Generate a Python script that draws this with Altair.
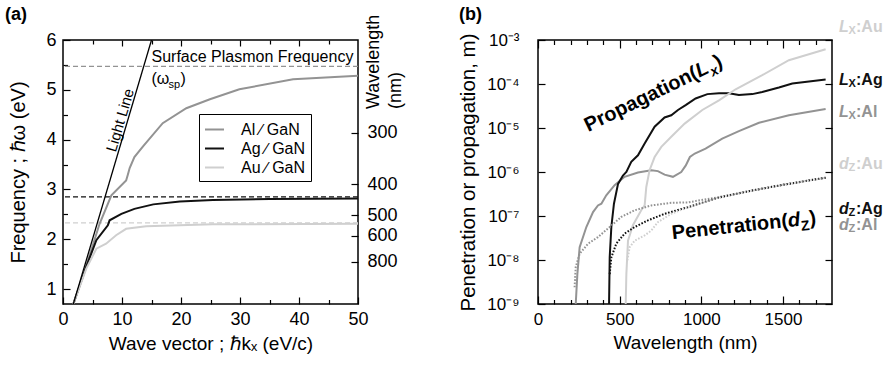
import altair as alt
import pandas as pd

FONT = "Liberation Sans"

# ----------------------------------------------------------------------
# (a) surface-plasmon dispersion at metal / GaN interfaces
# ----------------------------------------------------------------------
PAIRS = ["Al ∕ GaN", "Ag ∕ GaN", "Au ∕ GaN"]
PAIR_COLORS = ["#939393", "#111111", "#cfcfcf"]

al_k = [1.75, 3.9, 6.2, 8.2, 10.7, 11.0, 11.3, 12.1, 13.6, 16.9, 20.9, 24.9, 29.9, 39.0, 50.0]
al_E = [0.70, 1.45, 2.31, 2.88, 3.18, 3.30, 3.43, 3.65, 3.87, 4.33, 4.63, 4.81, 5.01, 5.21, 5.28]
ag_k = [1.75, 3.95, 5.65, 7.6, 7.9, 9.9, 12.1, 15.3, 19.8, 25.4, 35.0, 50.0]
ag_E = [0.70, 1.45, 1.98, 2.28, 2.38, 2.51, 2.61, 2.70, 2.76, 2.79, 2.81, 2.82]
au_k = [1.75, 3.95, 5.65, 7.3, 9.0, 10.7, 14.1, 25.4, 50.0]
au_E = [0.70, 1.41, 1.81, 1.91, 2.08, 2.21, 2.26, 2.30, 2.31]

sp_E = [5.47, 2.85, 2.33]          # surface plasmon energies (dashed)
light_k = [1.75, 15.0]             # light line in GaN
light_E = [0.70, 6.0]

wl_ticks = [300, 400, 500, 600, 800]   # nm, right-hand axis
HC_EV_NM = 1240.0

# ----------------------------------------------------------------------
# (b) propagation length L_x and penetration depth d_z (log10 of metres)
# ----------------------------------------------------------------------
METALS = ["Al", "Ag", "Au"]
METAL_COLORS = ["#939393", "#111111", "#cfcfcf"]

al_lx_wl = [231, 241, 255, 296, 337, 367, 388, 418, 469, 530, 612, 694, 734, 775, 826, 877,
            905, 930, 960, 1026, 1128, 1230, 1353, 1536, 1761]
al_lx_exp = [-9.0, -8.32, -7.71, -7.25, -6.91, -6.76, -6.72, -6.53, -6.30, -6.11, -6.01, -5.96,
             -5.98, -6.06, -6.11, -6.0, -5.85, -5.66, -5.58, -5.47, -5.24, -5.07, -4.88, -4.71, -4.57]
ag_lx_wl = [435, 439, 449, 465, 490, 520, 541, 571, 612, 653, 714, 775, 816, 857, 904, 965,
            1037, 1108, 1169, 1230, 1312, 1373, 1475, 1557, 1761]
ag_lx_exp = [-9.0, -7.94, -7.25, -6.72, -6.27, -6.08, -6.0, -5.77, -5.62, -5.35, -4.97, -4.76,
             -4.71, -4.59, -4.48, -4.33, -4.23, -4.21, -4.21, -4.25, -4.23, -4.18, -4.08, -3.99, -3.90]
au_lx_wl = [537, 541, 551, 581, 632, 653, 663, 683, 714, 755, 816, 898, 1006, 1108, 1210, 1373,
            1536, 1761]
au_lx_exp = [-9.0, -8.32, -7.56, -7.21, -6.87, -6.76, -6.34, -5.96, -5.66, -5.43, -5.20, -4.90,
             -4.59, -4.37, -4.12, -3.80, -3.46, -3.21]

al_dz_wl = [224, 231, 255, 306, 367, 439, 510, 592, 694, 816, 918, 1108, 1312, 1516, 1761]
al_dz_exp = [-8.62, -8.16, -7.86, -7.63, -7.48, -7.25, -7.02, -6.87, -6.76, -6.70, -6.69,
             -6.57, -6.42, -6.28, -6.13]
ag_dz_wl = [439, 449, 479, 530, 592, 673, 775, 918, 1108, 1312, 1516, 1761]
ag_dz_exp = [-8.32, -7.94, -7.63, -7.40, -7.25, -7.10, -6.95, -6.80, -6.58, -6.42, -6.28, -6.13]
au_dz_wl = [547, 561, 592, 653, 694, 734, 816, 918, 1108, 1312, 1516, 1761]
au_dz_exp = [-8.01, -7.71, -7.56, -7.44, -7.33, -7.14, -6.95, -6.80, -6.58, -6.42, -6.28, -6.13]

# end-of-curve labels on the right of panel (b)
end_labels = ["L", "L", "L", "d", "d", "d"]
end_subs = ["X", "X", "X", "Z", "Z", "Z"]
end_metals = ["Au", "Ag", "Al", "Au", "Ag", "Al"]
end_exp = [-2.70, -3.91, -4.63, -5.81, -6.84, -7.21]

W_A, H_A = 295, 264
W_B, H_B = 294, 264

# ----------------------------------------------------------------------
# helpers
# ----------------------------------------------------------------------
def axis(orient, values, size, **kw):
    """Axis whose ticks point into the plot (negative offset = tick length)."""
    spec = dict(orient=orient, values=values, tickSize=size, offset=-size,
                domain=False, grid=False, labels=False, ticks=True,
                tickColor="black", tickWidth=1.2, title=None)
    spec.update(kw)
    return alt.Axis(**spec)


LAB = dict(labels=True, labelFont=FONT, labelFontSize=18, labelColor="black",
           labelFlush=False, labelOverlap=False,
           titleFont=FONT, titleFontSize=19, titleFontWeight="normal", titleColor="black")

# ----------------------------------------------------------------------
# panel (a)
# ----------------------------------------------------------------------
rows = []
for pair, ks, es in zip(PAIRS, [al_k, ag_k, au_k], [al_E, ag_E, au_E]):
    rows += [{"pair": pair, "k": k, "E": e} for k, e in zip(ks, es)]
df_a = pd.DataFrame(rows)
df_light = pd.DataFrame({"k": light_k, "E": light_E})

XS_A = alt.Scale(domain=[0, 50], nice=False, zero=False)
YS_A = alt.Scale(domain=[0.7, 6], nice=False, zero=False)

curves_a = alt.Chart(df_a).mark_line(strokeWidth=2, clip=True).encode(
    x=alt.X("k:Q", scale=XS_A,
            axis=axis("bottom", [0, 10, 20, 30, 40, 50], 7, labelPadding=6,
                      title="Wave vector ; ℏkₓ (eV/c)", titlePadding=6, **LAB)),
    y=alt.Y("E:Q", scale=YS_A,
            axis=axis("left", [1, 2, 3, 4, 5, 6], 7, labelPadding=7,
                      title="Frequency ; ℏω (eV)", titlePadding=17,
                      **{**LAB, "titleFontSize": 20})),
    color=alt.Color("pair:N", scale=alt.Scale(domain=PAIRS, range=PAIR_COLORS),
                    legend=alt.Legend(title=None, orient="none", legendX=136, legendY=74,
                                      symbolType="stroke",
                                      symbolSize=361, symbolStrokeWidth=2,
                                      labelFont=FONT, labelFontSize=16, labelColor="black",
                                      labelOffset=16, rowPadding=0, padding=5,
                                      strokeColor="black", fillColor="white")),
)

# one dashed rule per interface at its surface-plasmon energy
sp_rules = [
    alt.Chart(pd.DataFrame({"E": [e]})).mark_rule(
        strokeDash=[5, 3], strokeWidth=1.3, color=c).encode(
        y=alt.Y("E:Q", scale=YS_A, axis=None))
    for e, c in zip(sp_E, PAIR_COLORS)
]

light = alt.Chart(df_light).mark_line(color="black", strokeWidth=1.3, clip=True).encode(
    x=alt.X("k:Q", scale=XS_A, axis=axis("bottom", [5, 15, 25, 35, 45], 4.5)),
    y=alt.Y("E:Q", scale=YS_A,
            axis=axis("left", [1.5, 2.5, 3.5, 4.5, 5.5], 4.5)),
)

ann_a = pd.DataFrame({"k": [15.0], "E1": [5.55], "E2": [5.11], "kl": [9.7], "El": [4.39]})

spf_text = alt.Chart(ann_a).mark_text(
    text="Surface Plasmon Frequency", font=FONT, fontSize=16, align="left",
    baseline="alphabetic", color="black").encode(
    x=alt.X("k:Q", scale=XS_A, axis=axis("top", [10, 20, 30, 40], 6)),
    y=alt.Y("E1:Q", scale=YS_A,
            axis=axis("right", [HC_EV_NM / w for w in wl_ticks], 7, labelPadding=9,
                      labelExpr="format(1240 / datum.value, '.0f')", **LAB)),
)

omega_open = alt.Chart(ann_a).mark_text(
    text="(ω", font=FONT, fontSize=16, align="left", baseline="alphabetic",
    color="black").encode(
    x=alt.X("k:Q", scale=XS_A, axis=axis("top", [5, 15, 25, 35, 45], 4)),
    y=alt.Y("E2:Q", scale=YS_A, axis=None),
)
omega_sub = alt.Chart(ann_a).mark_text(
    text="sp", font=FONT, fontSize=11, align="left", baseline="alphabetic",
    dx=17, dy=4, color="black").encode(
    x=alt.X("k:Q", scale=XS_A, axis=None), y=alt.Y("E2:Q", scale=YS_A, axis=None))
omega_close = alt.Chart(ann_a).mark_text(
    text=")", font=FONT, fontSize=16, align="left", baseline="alphabetic",
    dx=29, color="black").encode(
    x=alt.X("k:Q", scale=XS_A, axis=None), y=alt.Y("E2:Q", scale=YS_A, axis=None))

light_text = alt.Chart(ann_a).mark_text(
    text="Light Line", font=FONT, fontSize=15, align="center", baseline="middle",
    angle=286.4, color="black").encode(
    x=alt.X("kl:Q", scale=XS_A, axis=None), y=alt.Y("El:Q", scale=YS_A, axis=None))

# title of the wavelength axis, two rotated lines above the tick labels
wl_title = [
    alt.Chart(ann_a).mark_text(text=t, font=FONT, fontSize=18, align="left",
                               baseline="middle", angle=270, color="black").encode(
        x=alt.value(W_A + dx), y=alt.value(69))
    for t, dx in [("Wavelength", 16), ("(nm)", 38)]
]

tag_a = alt.Chart(ann_a).mark_text(
    text="(a)", font=FONT, fontSize=18, fontWeight="bold", align="left",
    baseline="alphabetic", color="black").encode(x=alt.value(-58), y=alt.value(-20))

panel_a = alt.layer(
    *sp_rules, curves_a, light, spf_text, omega_open, omega_sub, omega_close, light_text,
    *wl_title, tag_a
).resolve_axis(x="independent", y="independent").properties(width=W_A, height=H_A)

# ----------------------------------------------------------------------
# panel (b)
# ----------------------------------------------------------------------
rows = []
for metal, kind, wls, exps in [
    ("Al", "Lx", al_lx_wl, al_lx_exp), ("Ag", "Lx", ag_lx_wl, ag_lx_exp),
    ("Au", "Lx", au_lx_wl, au_lx_exp), ("Al", "dz", al_dz_wl, al_dz_exp),
    ("Ag", "dz", ag_dz_wl, ag_dz_exp), ("Au", "dz", au_dz_wl, au_dz_exp),
]:
    rows += [{"metal": metal, "kind": kind, "wl": w, "len": 10.0 ** e}
             for w, e in zip(wls, exps)]
df_b = pd.DataFrame(rows)
shade = dict(zip(METALS, METAL_COLORS))
df_b["shade"] = df_b["metal"].map(shade)

XS_B = alt.Scale(domain=[0, 1800], nice=False, zero=False)
YS_B = alt.Scale(type="log", domain=[1e-9, 1e-3], nice=False)
decades = [10.0 ** e for e in range(-9, -2)]
sup_expr = ("'10' + ['⁻⁹','⁻⁸','⁻⁷','⁻⁶','⁻⁵','⁻⁴','⁻³']"
            "[round(log(datum.value) / LN10) + 9]")

lx_lines = alt.Chart(df_b).transform_filter(alt.datum.kind == "Lx").mark_line(
    strokeWidth=2, clip=True).encode(
    x=alt.X("wl:Q", scale=XS_B,
            axis=axis("bottom", [0, 500, 1000, 1500], 8, labelPadding=7, format="d",
                      title="Wavelength (nm)", titlePadding=6,
                      **{**LAB, "labelFontSize": 17})),
    y=alt.Y("len:Q", scale=YS_B,
            axis=axis("left", decades, 7, labelPadding=19, labelExpr=sup_expr,
                      title="Penetration or propagation, m)", titlePadding=8,
                      **{**LAB, "labelFontSize": 17, "titleFontSize": 20.5})),
    color=alt.Color("shade:N", scale=None),
    detail="metal:N",
)

dz_lines = alt.Chart(df_b).transform_filter(alt.datum.kind == "dz").mark_line(
    strokeWidth=2, strokeDash=[1.6, 1.6], clip=True).encode(
    x=alt.X("wl:Q", scale=XS_B,
            axis=axis("bottom", [w for w in range(100, 1800, 100) if w % 500], 4.5)),
    y=alt.Y("len:Q", scale=YS_B, axis=axis("right", decades, 7)),
    color=alt.Color("shade:N", scale=None),
    detail="metal:N",
)

ann_b = pd.DataFrame({"wp": [987.0], "yp": [10 ** -3.86], "wn": [1534.0], "yn": [10 ** -7.25]})


def piece(text, xf, yf, size, angle, align="left", dx=0, dy=0, italic=False, x_axis=None):
    mark = dict(text=text, font=FONT, fontSize=size, fontWeight="bold", align=align,
                baseline="alphabetic", angle=angle, dx=dx, dy=dy, color="black")
    if italic:
        mark["fontStyle"] = "italic"
    return alt.Chart(ann_b).mark_text(**mark).encode(
        x=alt.X(f"{xf}:Q", scale=XS_B, axis=x_axis),
        y=alt.Y(f"{yf}:Q", scale=YS_B, axis=None))


prop = [
    piece("Propagation(", "wp", "yp", 20, 334, align="right",
          x_axis=axis("top", [0, 500, 1000, 1500], 8)),
    piece("L", "wp", "yp", 20, 334, italic=True),
    piece("x", "wp", "yp", 14, 334, dx=12.5, dy=5, italic=True),
    piece(")", "wp", "yp", 20, 334, dx=20.5),
]
pene = [
    piece("Penetration(", "wn", "yn", 20, 354, align="right",
          x_axis=axis("top", [w for w in range(100, 1800, 100) if w % 500], 4.5)),
    piece("d", "wn", "yn", 20, 354, italic=True),
    piece("Z", "wn", "yn", 14, 354, dx=12.5, dy=5),
    piece(")", "wn", "yn", 20, 354, dx=21.5),
]

df_end = pd.DataFrame({"sym": end_labels, "sub": end_subs,
                       "rest": [":" + m for m in end_metals],
                       "shade": [shade[m] for m in end_metals],
                       "len": [10.0 ** e for e in end_exp]})


def end_piece(field, size, dx, dy=0, italic=False):
    mark = dict(font=FONT, fontSize=size, fontWeight="bold", align="left",
                baseline="middle", dx=dx, dy=dy)
    if italic:
        mark["fontStyle"] = "italic"
    return alt.Chart(df_end).mark_text(**mark).encode(
        x=alt.value(W_B + 7),
        y=alt.Y("len:Q", scale=YS_B, axis=None),
        text=alt.Text(f"{field}:N"),
        color=alt.Color("shade:N", scale=None))


ends = [end_piece("sym", 16, 0, italic=True), end_piece("sub", 11, 9.5, dy=4),
        end_piece("rest", 16, 17)]

tag_b = alt.Chart(ann_b).mark_text(
    text="(b)", font=FONT, fontSize=18, fontWeight="bold", align="left",
    baseline="alphabetic", color="black").encode(x=alt.value(-79), y=alt.value(-20))

panel_b = alt.layer(
    lx_lines, dz_lines, *prop, *pene, *ends, tag_b
).resolve_axis(x="independent", y="independent").properties(width=W_B, height=H_B)

chart = alt.hconcat(panel_a, panel_b, spacing=180, bounds="flush").properties(
    padding={"left": 4, "top": 5, "right": 0, "bottom": 0}
).configure_view(stroke="black", strokeWidth=1.5)

chart.save("out.html", embed_options={"renderer": "svg", "actions": False})
